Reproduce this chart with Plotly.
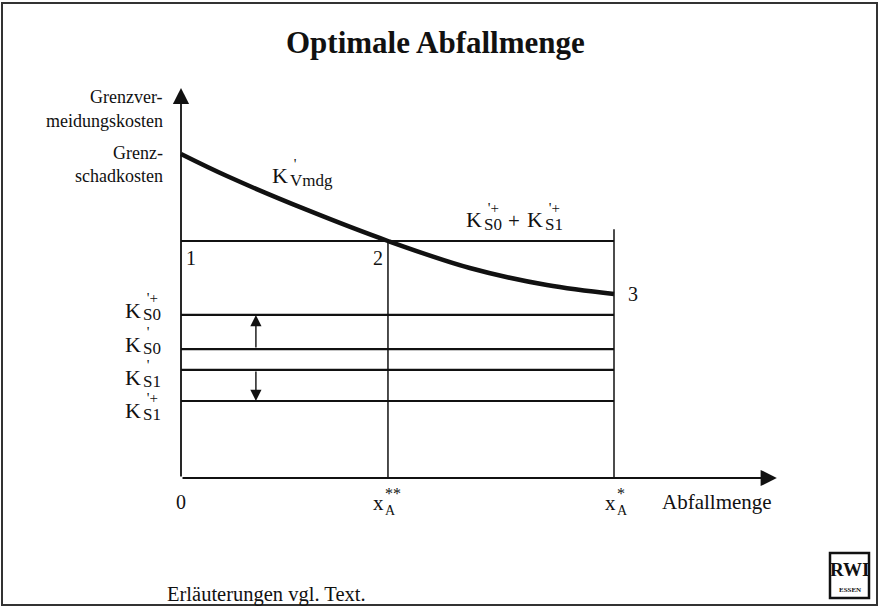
import plotly.graph_objects as go

# ---- data (schematic units) ----
x_star = 10.0          # x_A*
x_2star = 4.78         # x_A**
k_sum = 10.0           # K'S0+ + K'S1+
k_levels = {"S0+": 6.88, "S0": 5.44, "S1": 4.56, "S1+": 3.25}
curve_x = [0, 1.06, 2.91, 4.78, 6.67, 8.45, 10.0]
curve_y = [13.67, 12.74, 11.31, 10.0, 8.86, 8.14, 7.76]
x_axis_end = 13.76
y_axis_end = 16.46
x_star_top = 10.5
arrow_x = 1.73

W, H = 881, 610
FONT = "Liberation Serif"
INK = "#111111"

fig = go.Figure()

def line(xs, ys, w):
    fig.add_trace(go.Scatter(x=xs, y=ys, mode="lines", line=dict(color=INK, width=w),
                             hoverinfo="skip", showlegend=False))

# horizontal cost lines
line([0, x_star], [k_sum, k_sum], 2.2)
for v in k_levels.values():
    line([0, x_star], [v, v], 2.2)
# verticals
line([x_2star, x_2star], [0, k_sum], 1.5)
line([x_star, x_star], [0, x_star_top], 1.5)
# marginal abatement cost curve
fig.add_trace(go.Scatter(x=curve_x, y=curve_y, mode="lines",
                         line=dict(color=INK, width=4.5, shape="spline", smoothing=1.0),
                         hoverinfo="skip", showlegend=False))

def arrow(x0, y0, x1, y1, w=1.6, size=1.6):
    fig.add_annotation(x=x1, y=y1, ax=x0, ay=y0, xref="x", yref="y", axref="x", ayref="y",
                       text="", showarrow=True, arrowhead=2, arrowsize=size, arrowwidth=w,
                       arrowcolor=INK, standoff=0, startstandoff=0)

# axes
arrow(0, 0, x_axis_end, 0, 1.8, 1.8)
arrow(0, 0, 0, y_axis_end, 1.8, 1.8)
# shift arrows
arrow(arrow_x, k_levels["S0"], arrow_x, k_levels["S0+"], 1.4, 1.6)
arrow(arrow_x, k_levels["S1"], arrow_x, k_levels["S1+"], 1.4, 1.6)

def txt(x, y, s, size=19, xanchor="center", bold=False, align="center"):
    fig.add_annotation(x=x / W, y=1 - y / H, xref="paper", yref="paper", text=s,
                       showarrow=False, xanchor=xanchor, yanchor="middle", align=align,
                       borderpad=0,
                       font=dict(family=FONT, size=size, color=INK,
                                 weight="bold" if bold else "normal"))

def klabel(xk, yk, sub, sup, ks=22, ss=17):
    txt(xk, yk, "K", ks)
    # superscript stacked over subscript in one text block
    s = (f"<span style='font-size:{ss - 2}px'>&nbsp;{sup}</span><br>"
         f"<span style='font-size:{ss}px'>{sub}</span>")
    txt(xk + 9, yk - 3, s, 13, "left", align="left")

# title
txt(435, 42, "Optimale Abfallmenge", 31, bold=True)

# y-axis text
txt(164, 97, "Grenzver-", 18, "right")
txt(164, 121, "meidungskosten", 18, "right")
txt(164, 153, "Grenz-", 18, "right")
txt(164, 176, "schadkosten", 18, "right")

# cost level labels
klabel(133, 310, "S0", "'+")
klabel(133, 344, "S0", "'")
klabel(133, 377, "S1", "'")
klabel(133, 410, "S1", "'+")

# curve label
klabel(280, 176, "Vmdg", "'")
# sum label
klabel(474, 220, "S0", "'+")
txt(514, 221, "+", 21)
klabel(535, 220, "S1", "'+")

# points
txt(191, 258, "1", 20)
txt(378, 258, "2", 20)
txt(633, 294, "3", 20)

# x-axis labels
txt(181, 502, "0", 20)
txt(378, 503, "x", 21)
txt(384, 501, "<span style='font-size:16px'>**</span><br><span style='font-size:14px'>A</span>",
    12, "left", align="left")
txt(610, 503, "x", 21)
txt(616, 501, "<span style='font-size:16px'>*</span><br><span style='font-size:14px'>A</span>",
    12, "left", align="left")
txt(661, 502, "Abfallmenge", 21, "left")

# footnote
txt(166, 594, "Erläuterungen vgl. Text.", 20.5, "left")

# frame
fig.add_shape(type="rect", xref="paper", yref="paper", x0=2 / W, x1=877 / W,
              y0=1 - 605 / H, y1=1 - 3 / H, line=dict(color="#333333", width=2))
# RWI logo
fig.add_shape(type="rect", xref="paper", yref="paper", x0=830 / W, x1=869 / W,
              y0=1 - 598 / H, y1=1 - 553 / H, line=dict(color=INK, width=2.5))
txt(849.5, 569, "RWI", 19, bold=True)
txt(849.5, 590, "ESSEN", 7, bold=True)

# scales: 1 x-unit = 43.3 px from x=181; 1 y-unit = 23.7 px from y=478
fig.update_xaxes(range=[-181 / 43.3, (W - 181) / 43.3], visible=False)
fig.update_yaxes(range=[-(H - 478) / 23.7, 478 / 23.7], visible=False)
fig.update_layout(width=W, height=H, autosize=False, margin=dict(l=0, r=0, t=0, b=0),
                  paper_bgcolor="white", plot_bgcolor="white")

fig.write_html("out.html", config={"displayModeBar": False},
               post_script="document.body.style.margin='0px';document.body.style.overflow='hidden';")
